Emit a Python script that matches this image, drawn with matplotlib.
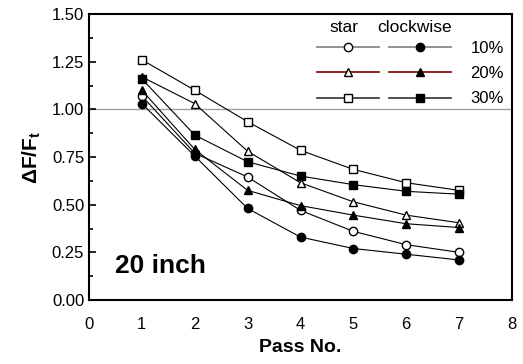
import numpy as np
import matplotlib
matplotlib.use('Agg')
import matplotlib.pyplot as plt
from matplotlib.lines import Line2D
from matplotlib.ticker import MultipleLocator, FormatStrFormatter

plt.rcParams['font.family'] = ['Liberation Sans', 'DejaVu Sans']
plt.rcParams['mathtext.fontset'] = 'custom'
plt.rcParams['mathtext.rm'] = 'Liberation Sans'
plt.rcParams['mathtext.bf'] = 'Liberation Sans:bold'

"""
data
"""
passes = [1, 2, 3, 4, 5, 6, 7]
star_10 = [1.07, 0.77, 0.645, 0.47, 0.36, 0.29, 0.25]
cw_10 = [1.03, 0.755, 0.48, 0.33, 0.27, 0.24, 0.21]
star_20 = [1.17, 1.03, 0.78, 0.615, 0.515, 0.445, 0.405]
cw_20 = [1.10, 0.79, 0.575, 0.495, 0.445, 0.40, 0.38]
star_30 = [1.26, 1.10, 0.935, 0.785, 0.685, 0.615, 0.575]
cw_30 = [1.16, 0.865, 0.725, 0.65, 0.605, 0.57, 0.555]
pct_labels = ['10%', '20%', '30%']
leg_colors = ['#808080', '#7a0000', '#303030']

fig = plt.figure(figsize=(5.23, 3.64), dpi=100)
ax = fig.add_axes([89/523, 1-300/364, (512-89)/523, (300-14)/364])

ax.axhline(1.0, color='#a0a0a0', lw=1.0, zorder=1)

ms = 6
ax.plot(passes, star_10, 'k-', marker='o', mfc='white', ms=ms, lw=0.8, zorder=3)
ax.plot(passes, cw_10, 'k-', marker='o', mfc='black', ms=ms, lw=0.8, zorder=3)
ax.plot(passes, star_20, 'k-', marker='^', mfc='white', ms=ms, lw=0.8, zorder=3)
ax.plot(passes, cw_20, 'k-', marker='^', mfc='black', ms=ms, lw=0.8, zorder=3)
ax.plot(passes, star_30, 'k-', marker='s', mfc='white', ms=ms, lw=0.8, zorder=3)
ax.plot(passes, cw_30, 'k-', marker='s', mfc='black', ms=ms, lw=0.8, zorder=3)

# legend: star column, clockwise column, labels on right
markers = ['o', '^', 's']
handles = []
labels = []
for m, c in zip(markers, leg_colors):
    handles.append(Line2D([], [], color=c, lw=1.2, marker=m, mfc='white', mec='black', ms=ms))
    labels.append('')
for m, c, lab in zip(markers, leg_colors, pct_labels):
    handles.append(Line2D([], [], color=c, lw=1.2, marker=m, mfc='black', mec='black', ms=ms))
    labels.append(lab)
leg = ax.legend(handles, labels, ncol=2, loc='upper right', frameon=False,
                handlelength=3.7, columnspacing=-0.6, handletextpad=1.2,
                labelspacing=0.62, fontsize=12, borderaxespad=0,
                bbox_to_anchor=(0.997, 0.93))
ax.text((344-89)/423, 1-(28-14)/286, 'star', fontsize=12.5, ha='center', va='center',
        transform=ax.transAxes)
ax.text((415-89)/423, 1-(28-14)/286, 'clockwise', fontsize=12.5, ha='center', va='center',
        transform=ax.transAxes)

ax.text(0.5, 0.18, '20 inch', fontsize=19, fontweight='bold', va='center')

ax.set_xlim(0, 8)
ax.set_ylim(0, 1.5)
ax.xaxis.set_major_locator(MultipleLocator(1))
ax.yaxis.set_major_locator(MultipleLocator(0.25))
ax.yaxis.set_minor_locator(MultipleLocator(0.125))
ax.yaxis.set_major_formatter(FormatStrFormatter('%.2f'))
ax.tick_params(axis='y', which='major', direction='in', length=5, width=1.2, labelsize=12)
ax.tick_params(axis='y', which='minor', direction='in', length=3, width=1.2)
ax.tick_params(axis='x', length=0, labelsize=12, pad=12)
for s in ax.spines.values():
    s.set_linewidth(1.5)

ax.set_xlabel('Pass No.', fontsize=14, fontweight='bold', labelpad=5)
ax.set_ylabel(r'$\mathbf{\Delta F/F_t}$', fontsize=15, labelpad=6)

plt.savefig('out.png', dpi=100)
